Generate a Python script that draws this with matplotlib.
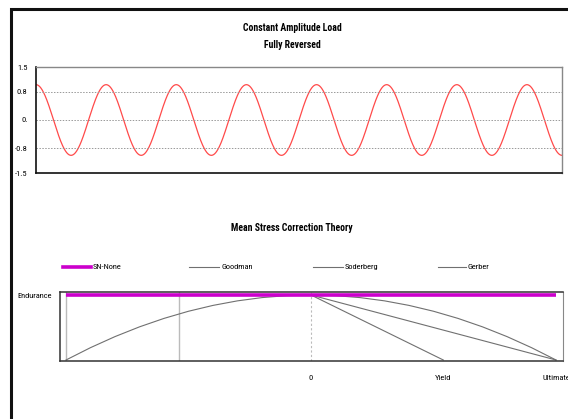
import numpy as np
import matplotlib
matplotlib.use("Agg")
import matplotlib.pyplot as plt
from matplotlib.lines import Line2D
from matplotlib.patches import Rectangle

plt.rcParams['font.family'] = ['Roboto Condensed', 'DejaVu Sans']

# ---- data ----
load_amplitude = 1.0
load_cycles = 7.5
load_yticks = [1.5, 0.8, 0.0, -0.8, -1.5]
load_yticklabels = ["1.5", "0.8", "0.", "-0.8", "-1.5"]
load_grid = [0.8, 0.0, -0.8]

endurance = 1.0
yield_s = 0.54
ultimate = 1.0
mean_ticks = [0.0, 0.54, 1.0]
mean_ticklabels = ["0", "Yield", "Ultimate"]
# Gerber parabola (fraction of endurance vs. mean/ultimate)
gerber_x = [-1.0, -0.9, -0.8, -0.7, -0.6, -0.5, -0.4, -0.3, -0.2, -0.1, 0.0,
            0.1, 0.2, 0.3, 0.4, 0.5, 0.6, 0.7, 0.8, 0.9, 1.0]
gerber_y = [0.0, 0.19, 0.36, 0.51, 0.64, 0.75, 0.84, 0.91, 0.96, 0.99, 1.0,
            0.99, 0.96, 0.91, 0.84, 0.75, 0.64, 0.51, 0.36, 0.19, 0.0]
legend_labels = ["SN-None", "Goodman", "Soderberg", "Gerber"]

W, H = 568, 419
fig = plt.figure(figsize=(W / 100, H / 100), dpi=100)

def fx(px):
    return px / W

def fy(py):
    return 1 - py / H

# outer frame
fig.patches.append(Rectangle((fx(11), fy(600)), fx(700), fy(9) - fy(600),
                             transform=fig.transFigure, fill=False,
                             edgecolor='#111111', linewidth=2.2))

# ---- top chart ----
ax1 = fig.add_axes([fx(36), fy(173), fx(562) - fx(36), fy(67) - fy(173)])
t = np.linspace(0, load_cycles, 2000)
ax1.plot(t, load_amplitude * np.cos(2 * np.pi * t), color='#ff4a4a', lw=0.9)
for g in load_grid:
    ax1.axhline(g, color='#999999', lw=0.7, ls=(0, (1.5, 1.5)))
ax1.set_xlim(0, load_cycles)
ax1.set_ylim(-1.5, 1.5)
ax1.set_yticks(load_yticks)
ax1.set_yticklabels(load_yticklabels)
ax1.set_xticks([])
ax1.tick_params(axis='y', length=0, pad=6, labelsize=6)
for s in ['left', 'bottom']:
    ax1.spines[s].set_color('#111111')
    ax1.spines[s].set_linewidth(1.2)
for s in ['top', 'right']:
    ax1.spines[s].set_color('#888888')
    ax1.spines[s].set_linewidth(1.0)

fig.text(fx(292), fy(28), "Constant Amplitude Load", ha='center', va='center',
         fontsize=7, fontweight='bold')
fig.text(fx(292), fy(45), "Fully Reversed", ha='center', va='center',
         fontsize=7, fontweight='bold')

# ---- bottom chart ----
fig.text(fx(292), fy(228), "Mean Stress Correction Theory", ha='center',
         va='center', fontsize=7, fontweight='bold')

ax2 = fig.add_axes([fx(60), fy(361), fx(563) - fx(60), fy(292) - fy(361)])
ax2.set_xlim(-ultimate - 6 / 245, ultimate + 7 / 245)
ax2.set_ylim(-1 / 65, endurance + 3 / 65)
ax2.axvline(-ultimate, color='#bbbbbb', lw=1.0)
ax2.axvline(-yield_s, color='#bbbbbb', lw=1.0)
ax2.axvline(0, color='#bbbbbb', lw=0.8, ls=(0, (2, 2)))
gray = '#707070'
# left side (Goodman/Soderberg flat at endurance)
ax2.plot([-ultimate, 0], [endurance, endurance], color=gray, lw=0.8)
ax2.plot(gerber_x, gerber_y, color=gray, lw=0.8)
ax2.plot([0, ultimate], [endurance, 0], color=gray, lw=0.8)
ax2.plot([0, yield_s], [endurance, 0], color=gray, lw=0.8)
ax2.plot([-ultimate, ultimate], [endurance, endurance], color='#cc00cc',
         lw=2.6, solid_capstyle='butt')
ax2.set_xticks(mean_ticks)
ax2.set_xticklabels(mean_ticklabels)
ax2.set_yticks([endurance])
ax2.set_yticklabels(["Endurance"])
ax2.tick_params(length=0, labelsize=6)
ax2.tick_params(axis='x', pad=10)
ax2.tick_params(axis='y', pad=5.5)
for s in ['left', 'bottom', 'top']:
    ax2.spines[s].set_color('#333333')
    ax2.spines[s].set_linewidth(1.1)
ax2.spines['right'].set_color('#888888')

# legend (manual, figure coords)
leg_y = fy(267)
items = [(63, 91, 93, '#cc00cc', 2.6), (189, 219, 221, gray, 0.8),
         (313, 343, 345, gray, 0.8), (438, 466, 468, gray, 0.8)]
for (x0, x1, xt, c, lw), lab in zip(items, legend_labels):
    fig.lines.append(Line2D([fx(x0), fx(x1)], [leg_y, leg_y], color=c, lw=lw,
                            transform=fig.transFigure))
    fig.text(fx(xt), leg_y, lab, ha='left', va='center', fontsize=6)

fig.savefig("out.png", dpi=100)
